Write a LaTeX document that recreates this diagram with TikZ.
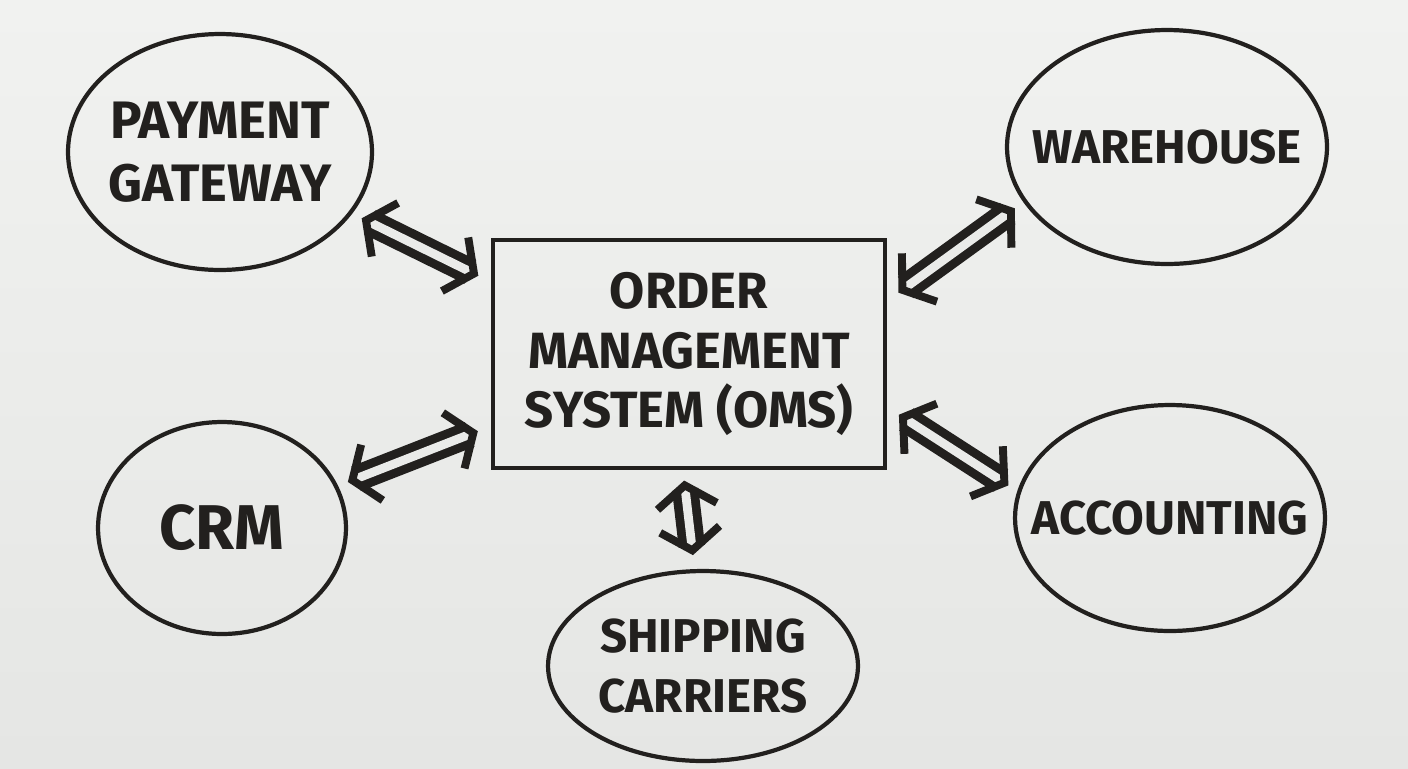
\documentclass[tikz,border=0pt]{standalone}
\usepackage{fontspec}
\setmainfont{Fira Sans}
\usetikzlibrary{positioning,arrows.meta,shapes.geometric}

\definecolor{board}{RGB}{234,235,233}
\definecolor{boardtop}{RGB}{241,242,240}
\definecolor{boardlow}{RGB}{229,230,228}
\definecolor{marker}{RGB}{34,32,30}

\begin{document}
\begin{tikzpicture}[
x=0.02cm,
y=-0.02cm,
every node/.style={
draw=marker,
line width=2.4pt,
align=center,
text=marker,
font=\bfseries\fontsize{27}{34}\selectfont,
inner sep=2pt
},
bubble/.style={ellipse, inner xsep=-40pt, inner ysep=-20pt},
conn/.style={
draw=marker,
double=board,
double distance=5pt,
line width=5pt,
{Straight Barb[length=12pt,width=34pt,line width=4.5pt]}-{Straight Barb[length=12pt,width=34pt,line width=4.5pt]},
shorten <=6pt,
shorten >=8pt
}
]

% whiteboard
\shade[top color=boardtop, bottom color=boardlow] (0,0) rectangle (1408,768);

\node (oms) [minimum width=7.84cm, minimum height=4.56cm,
font=\bfseries\fontsize{29}{34}\selectfont] at (689,354)
{ORDER\\MANAGEMENT\\SYSTEM (OMS)};

\node (pay) [bubble, minimum width=6.08cm, minimum height=4.72cm,
font=\bfseries\fontsize{30}{36}\selectfont] at (220,152)
{PAYMENT\\GATEWAY};

\node (wh) [bubble, minimum width=6.4cm, minimum height=4.68cm] at (1167,147)
{WAREHOUSE};

\node (crm) [bubble, minimum width=4.96cm, minimum height=4.24cm,
font=\bfseries\fontsize{36}{40}\selectfont] at (222,528)
{CRM};

\node (acc) [bubble, minimum width=6.2cm, minimum height=4.52cm] at (1170,518)
{ACCOUNTING};

\node (ship) [bubble, minimum width=6.2cm, minimum height=3.8cm] at (703,666)
{SHIPPING\\CARRIERS};

\draw[conn] (pay.-25) -- (oms.160);
\draw[conn] (wh.201) -- (oms.15);
\draw[conn] (crm.20) -- (oms.200);
\draw[conn] (acc.170) -- (oms.-15);
\draw[conn] (oms.-93) -- (ship.95);

\end{tikzpicture}
\end{document}
